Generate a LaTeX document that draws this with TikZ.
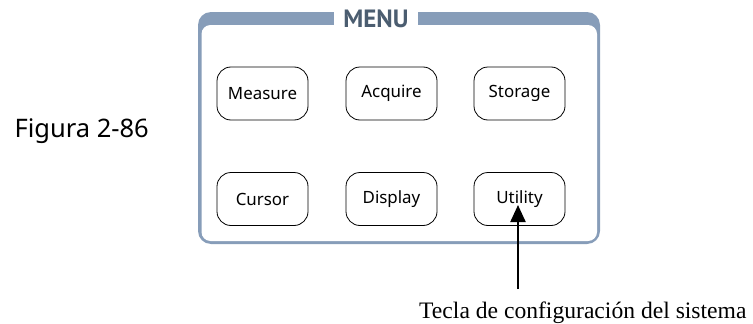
\documentclass[tikz,border=0pt]{standalone}
\usepackage{fontspec}
\setmainfont{Noto Sans}
\newfontfamily\menufont{PT Sans}
\newfontfamily\seriffont{Liberation Serif}
\usetikzlibrary{arrows.meta}
\definecolor{bandblue}{HTML}{879DB9}
\definecolor{menutext}{HTML}{4B5D70}
\tikzset{
  keybox/.style={draw=black, line width=0.8pt, rounded corners=14pt,
    minimum width=91pt, minimum height=53pt, inner sep=0pt,
    font=\fontsize{16.9}{20}\selectfont},
}
\begin{document}
\begin{tikzpicture}[x=1pt,y=-1pt]
\useasboundingbox (0,0) rectangle (753,324);
% frame
\fill[bandblue, rounded corners=13pt] (198,12) rectangle (600,244);
\fill[white, rounded corners=9pt] (201.5,25) rectangle (597,241);
\fill[white] (334,8) rectangle (418,26);
\node[font=\menufont\bfseries\fontsize{25}{28}\selectfont, text=menutext, inner sep=0pt] (menu) at (376,19) {MENU};
% buttons
\node[keybox] (measure) at (262.5,93.5) {Measure};
\node[keybox] (acquire) at (391.5,93.5) {Acquire};
\node[keybox] (storage) at (519.5,93.5) {Storage};
\node[keybox] (cursor) at (262.5,199) {Cursor};
\node[keybox] (display) at (391.5,199) {Display};
\node[keybox] (utility) at (519.5,199) {Utility};
% figure label
\node[anchor=base east, inner sep=0pt, font=\fontsize{25.5}{30}\selectfont] (fig) at (149,137) {Figura 2-86};
% caption
\node[anchor=base west, inner sep=0pt, font=\seriffont\fontsize{23.6}{28}\selectfont] (tecla) at (419,318) {Tecla de configuración del sistema};
\coordinate (arrowfoot) at (518,289);
\coordinate (arrowtip) at (518,205);
\draw[line width=2.2pt, -{Triangle[width=15pt,length=17pt]}] (arrowfoot) -- (arrowtip);
\end{tikzpicture}
\end{document}
